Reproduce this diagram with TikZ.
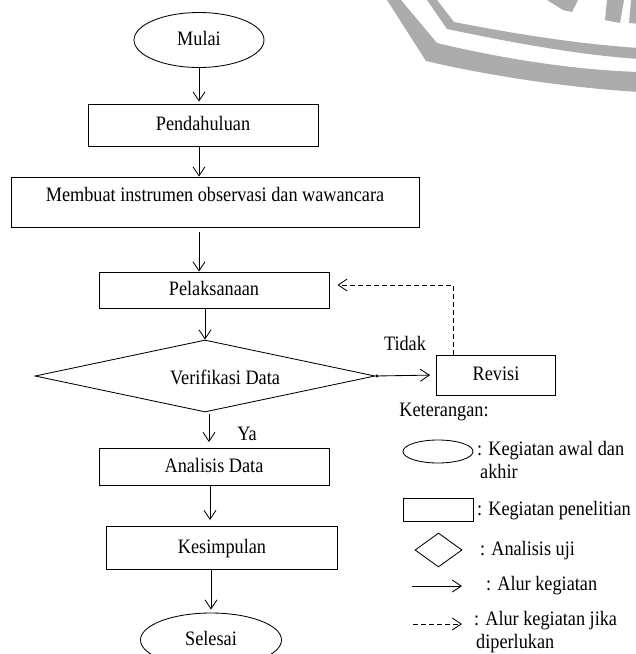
\documentclass[tikz,border=0pt]{standalone}
\usepackage{fontspec}
\setmainfont{Liberation Serif}[FakeStretch=0.89]
\usetikzlibrary{shapes.geometric,arrows.meta}
\definecolor{wm}{RGB}{172,172,172}
\begin{document}
\begin{tikzpicture}[x=1pt,y=-1pt,
  every node/.style={font=\fontsize{20.5pt}{23pt}\selectfont, text=black},
  proc/.style={draw, rectangle, line width=0.85pt, inner sep=0pt, text height=14pt, text depth=4pt},
  term/.style={draw, ellipse, line width=0.85pt, inner sep=0pt, text height=14pt, text depth=4pt},
  legshape/.style={draw, line width=0.85pt, inner sep=0pt},
  dec/.style={draw, diamond, line width=0.85pt, inner sep=0pt},
  arr/.style={line width=0.85pt, -{Straight Barb[length=9pt,width=12pt]}},
  dotarr/.style={line width=0.85pt, {Circle[length=3pt]}-{Straight Barb[length=9pt,width=12pt]}},
  darr/.style={arr, dash pattern=on 5pt off 3pt},
  lbl/.style={inner sep=0pt, anchor=base west},
  plain/.style={inner sep=0pt}]
\useasboundingbox (0,0) rectangle (636,654);
% watermark
\fill[wm] (387,0) -- (426,61) .. controls (490,76) and (570,88) .. (640,92) -- (640,72) .. controls (570,70) and (495,57) .. (437,43) -- (401,0) -- cycle;
\fill[wm] (427,0) -- (447,29) .. controls (500,40) and (575,55) .. (640,59) -- (640,48) .. controls (575,44) and (505,32) .. (454,22) -- (437,0) -- cycle;
\fill[wm] (547,0) -- (578,0) -- (572,12) -- (563,10) -- cycle;
\fill[wm] (607,0) -- (605,20) -- (620,23) -- (624,0) -- cycle;
\fill[wm] (631,0) -- (629,23) -- (640,24) -- (640,0) -- cycle;
% flow
\node[term, minimum width=130pt, minimum height=55pt] (mulai) at (199,40) {Mulai};
\node[proc, minimum width=230pt, minimum height=42pt] (pend) at (203,125) {Pendahuluan};
\node[proc, minimum width=408pt, minimum height=50pt, text height=24pt, text depth=26pt] (memb) at (215,202) {Membuat instrumen observasi dan wawancara};
\node[proc, minimum width=230pt, minimum height=36pt] (pelak) at (214,290) {Pelaksanaan};
\node[dec, minimum width=340pt, minimum height=72pt] (ver) at (205,376) {};
\node[plain] (vtxt) at (225,377) {Verifikasi Data};
\node[proc, minimum width=119pt, minimum height=40pt] (rev) at (496,375) {Revisi};
\node[plain] (tidak) at (405,343) {Tidak};
\node[plain] (ya) at (247,434) {Ya};
\node[proc, minimum width=230pt, minimum height=37pt] (ana) at (214,467) {Analisis Data};
\node[proc, minimum width=231pt, minimum height=43pt] (kes) at (222,548) {Kesimpulan};
\node[term, minimum width=141pt, minimum height=54pt] (sel) at (211,640) {Selesai};
% connectors
\draw[arr, shorten >=2pt] (mulai.south) -- (mulai.south |- pend.north);
\draw[arr] ([xshift=-4pt]pend.south) -- ([xshift=-4pt]pend.south |- memb.north);
\draw[arr, shorten <=5pt] (memb.south -| mulai.south) -- (pelak.north -| mulai.south);
\draw[arr] (pelak.south -| ver.north) -- (ver.north);
\draw[dotarr, shorten >=6pt] (ver.east) -- (rev.west);
\draw[darr, shorten >=8pt] ([xshift=-43pt]rev.north) |- ([yshift=5pt]pelak.east);
\draw[arr, shorten <=2pt, shorten >=6pt] ([xshift=4pt]ver.south) -- ([xshift=4pt]ver.south |- ana.north);
\draw[arr, shorten >=6pt] ([xshift=-4pt]ana.south) -- ([xshift=-4pt]ana.south |- kes.north);
\draw[arr, shorten >=3pt] (kes.south -| sel.north) -- (sel.north);
% legend
\node[plain] (ket) at (444,412) {Keterangan:};
\node[legshape, ellipse, minimum width=70pt, minimum height=23pt] (lell) at (438,451.5) {};
\node[legshape, rectangle, minimum width=70pt, minimum height=23pt] (lrect) at (438,509.5) {};
\node[dec, minimum width=47pt, minimum height=34pt] (ldia) at (438.5,550) {};
\coordinate (la1) at (412,586);
\coordinate (la2) at (462,586);
\coordinate (ld1) at (413,624);
\coordinate (ld2) at (462,624);
\draw[arr] (la1) -- (la2);
\draw[darr] (ld1) -- (ld2);
\node[lbl] (t1a) at (477,455) {: Kegiatan awal dan};
\node[lbl] (t1b) at (480,478) {akhir};
\node[lbl] (t2) at (477,515) {: Kegiatan penelitian};
\node[lbl] (t3) at (480,555) {: Analisis uji};
\node[lbl] (t4) at (486,590) {: Alur kegiatan};
\node[lbl] (t5a) at (474,625) {: Alur kegiatan jika};
\node[lbl] (t5b) at (476,648) {diperlukan};
\end{tikzpicture}
\end{document}
